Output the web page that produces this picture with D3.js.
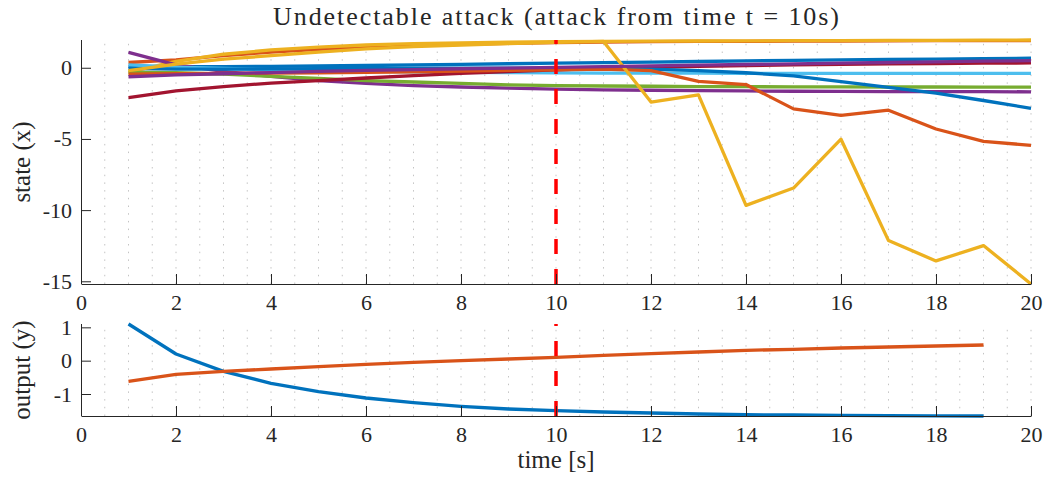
<!DOCTYPE html>
<html>
<head>
<meta charset="utf-8">
<script src="https://cdn.jsdelivr.net/npm/d3@7"></script>
<style>
  body { margin: 0; background: #ffffff; }
  svg { display: block; }
  text { font-family: 'Liberation Serif', 'DejaVu Serif', serif; fill: #262626; }
</style>
</head>
<body>
<svg id="chart" width="1053" height="477"></svg>
<script>
// ---- data -------------------------------------------------------------
const time = [1, 2, 3, 4, 5, 6, 7, 8, 9, 10, 11, 12, 13, 14, 15, 16, 17, 18, 19, 20];

// state trajectories x1..x11
const x1  = [0.10, 0.08, 0.08, 0.10, 0.13, 0.16, 0.20, 0.24, 0.28, 0.32, 0.36, 0.40, 0.44, 0.48, 0.52, 0.55, 0.58, 0.61, 0.64, 0.67];
const x2  = [0.37, 0.55, 0.85, 1.10, 1.30, 1.45, 1.55, 1.64, 1.71, 1.76, 1.80, 1.83, 1.85, 1.86, 1.87, 1.88, 1.89, 1.90, 1.90, 1.91];
const x3  = [-0.30, 0.45, 0.95, 1.25, 1.45, 1.60, 1.69, 1.75, 1.80, 1.83, 1.85, 1.87, 1.88, 1.89, 1.90, 1.91, 1.92, 1.93, 1.94, 1.95];
const x4  = [1.08, 0.20, -0.25, -0.60, -0.90, -1.10, -1.25, -1.35, -1.43, -1.50, -1.55, -1.58, -1.61, -1.63, -1.65, -1.66, -1.67, -1.68, -1.68, -1.69];
const x5  = [-0.30, -0.35, -0.45, -0.60, -0.75, -0.90, -1.00, -1.10, -1.20, -1.25, -1.28, -1.30, -1.32, -1.33, -1.34, -1.34, -1.35, -1.35, -1.36, -1.36];
const x6  = [0.20, 0.05, -0.05, -0.13, -0.20, -0.25, -0.29, -0.32, -0.34, -0.36, -0.37, -0.38, -0.38, -0.39, -0.39, -0.39, -0.40, -0.40, -0.40, -0.40];
const x7  = [-2.09, -1.62, -1.32, -1.08, -0.90, -0.72, -0.55, -0.40, -0.27, -0.15, -0.05, 0.03, 0.10, 0.15, 0.20, 0.24, 0.27, 0.30, 0.32, 0.34];
const x8  = [-0.05, -0.10, -0.10, -0.08, -0.06, -0.04, -0.03, -0.02, -0.02, -0.03, -0.05, -0.10, -0.20, -0.35, -0.57, -0.98, -1.38, -1.78, -2.30, -2.85];
const x9  = [-0.45, -0.42, -0.40, -0.38, -0.36, -0.33, -0.29, -0.24, -0.19, -0.15, -0.10, -0.20, -0.95, -1.18, -2.89, -3.34, -2.98, -4.30, -5.17, -5.45];
const x10 = [-0.20, 0.25, 0.60, 0.85, 1.10, 1.32, 1.48, 1.60, 1.70, 1.78, 1.85, -2.41, -1.90, -9.67, -8.45, -5.02, -12.14, -13.57, -12.49, -15.19];
const x11 = [-0.63, -0.50, -0.42, -0.34, -0.26, -0.19, -0.13, -0.07, -0.02, 0.03, 0.08, 0.13, 0.18, 0.23, 0.27, 0.32, 0.37, 0.41, 0.46, 0.50];
const states = [x1, x2, x3, x4, x5, x6, x7, x8, x9, x10, x11];

// measured outputs y1, y2
const outputTime = [1, 2, 3, 4, 5, 6, 7, 8, 9, 10, 11, 12, 13, 14, 15, 16, 17, 18, 19];
const y1 = [1.10, 0.20, -0.32, -0.68, -0.93, -1.12, -1.26, -1.37, -1.45, -1.50, -1.54, -1.57, -1.60, -1.62, -1.63, -1.64, -1.65, -1.655, -1.66];
const y2 = [-0.62, -0.41, -0.32, -0.25, -0.18, -0.11, -0.05, 0.00, 0.05, 0.10, 0.16, 0.21, 0.26, 0.31, 0.34, 0.38, 0.41, 0.44, 0.47];
const outputs = [y1, y2];

const timeTicks = [0, 2, 4, 6, 8, 10, 12, 14, 16, 18, 20];
const stateTicks = [0, -5, -10, -15];
const outputTicks = [1, 0, -1];
const attackStart = 10;

// ---- styling ----------------------------------------------------------
const palette = ["#0072BD", "#D95319", "#EDB120", "#7E2F8E", "#77AC30", "#4DBEEE", "#A2142F"];
const axisColor = "#262626";
const serif = "'Liberation Serif', 'DejaVu Serif', serif";
const tickFont = 22;

const svg = d3.select("#chart");

const frameLeft = 81, frameRight = 1031;
const topPanel = { top: 40, bottom: 284 };
const botPanel = { top: 324, bottom: 416 };

const xTop = d3.scaleLinear().domain([0, 20]).range([frameLeft, frameRight]);
const xBot = d3.scaleLinear().domain([0, 20]).range([frameLeft, frameRight]);

const stateExtent = d3.extent(states.flat());
const yTop = d3.scaleLinear().domain(stateExtent).range([topPanel.bottom, topPanel.top]);
const outputExtent = d3.extent(outputs.flat());
const yBot = d3.scaleLinear().domain(outputExtent).range([botPanel.bottom, botPanel.top]);

function drawPanel(x, y, panel, series, ts, yTicks, colorOf) {
  const g = svg.append("g");

  // dotted minor grid along time
  const gridTimes = d3.range(1, 41).map(k => k * 0.5);
  g.append("g").selectAll("line").data(gridTimes).join("line")
    .attr("x1", d => x(d)).attr("x2", d => x(d))
    .attr("y1", panel.bottom).attr("y2", panel.top)
    .attr("stroke", "#c4c4c4").attr("stroke-width", 1)
    .attr("stroke-dasharray", "1.5,6.2");

  // series lines
  const line = d3.line().x((d, i) => x(ts[i])).y(d => y(d));
  g.append("g").selectAll("path").data(series).join("path")
    .attr("d", d => line(d))
    .attr("fill", "none")
    .attr("stroke", (d, i) => colorOf(i))
    .attr("stroke-width", 3.3)
    .attr("stroke-linejoin", "round");

  // attack onset marker
  g.append("line")
    .attr("x1", x(attackStart)).attr("x2", x(attackStart))
    .attr("y1", panel.bottom).attr("y2", panel.top)
    .attr("stroke", "#FF0000").attr("stroke-width", 3.5)
    .attr("stroke-dasharray", "15,15");

  // axes
  const xAxis = d3.axisBottom(x).tickValues(timeTicks).tickFormat(d3.format("d"))
    .tickSizeInner(-10).tickSizeOuter(0).tickPadding(10);
  const gx = g.append("g").attr("transform", `translate(0,${panel.bottom})`).call(xAxis);
  const yAxis = d3.axisLeft(y).tickValues(yTicks).tickFormat(d => d < 0 ? "-" + Math.abs(d) : d)
    .tickSizeInner(-10).tickSizeOuter(0).tickPadding(9);
  const gy = g.append("g").attr("transform", `translate(${frameLeft},0)`).call(yAxis);
  gy.select(".domain").attr("d", `M0.5,${panel.top}V${panel.bottom}`);

  [gx, gy].forEach(a => {
    a.attr("color", axisColor).attr("font-family", serif).attr("font-size", tickFont);
    a.selectAll("text").attr("fill", axisColor);
    a.selectAll("line, path").attr("stroke-width", 1);
  });
  return g;
}

drawPanel(xTop, yTop, topPanel, states, time, stateTicks, i => palette[i % palette.length]);
drawPanel(xBot, yBot, botPanel, outputs, outputTime, outputTicks, i => palette[i % palette.length]);

// ---- labels -----------------------------------------------------------
svg.append("text")
  .attr("x", (frameLeft + frameRight) / 2).attr("y", 25)
  .attr("text-anchor", "middle").attr("font-family", serif).attr("font-size", 26)
  .attr("textLength", 566).attr("lengthAdjust", "spacing")
  .text("Undetectable attack (attack from time t = 10s)");

svg.append("text")
  .attr("transform", `translate(30,${(topPanel.top + topPanel.bottom) / 2}) rotate(-90)`)
  .attr("text-anchor", "middle").attr("font-family", serif).attr("font-size", 25)
  .text("state (x)");

svg.append("text")
  .attr("transform", `translate(30,${(botPanel.top + botPanel.bottom) / 2}) rotate(-90)`)
  .attr("text-anchor", "middle").attr("font-family", serif).attr("font-size", 25)
  .text("output (y)");

svg.append("text")
  .attr("x", (frameLeft + frameRight) / 2).attr("y", 468)
  .attr("text-anchor", "middle").attr("font-family", serif).attr("font-size", 25)
  .text("time [s]");
</script>
</body>
</html>
